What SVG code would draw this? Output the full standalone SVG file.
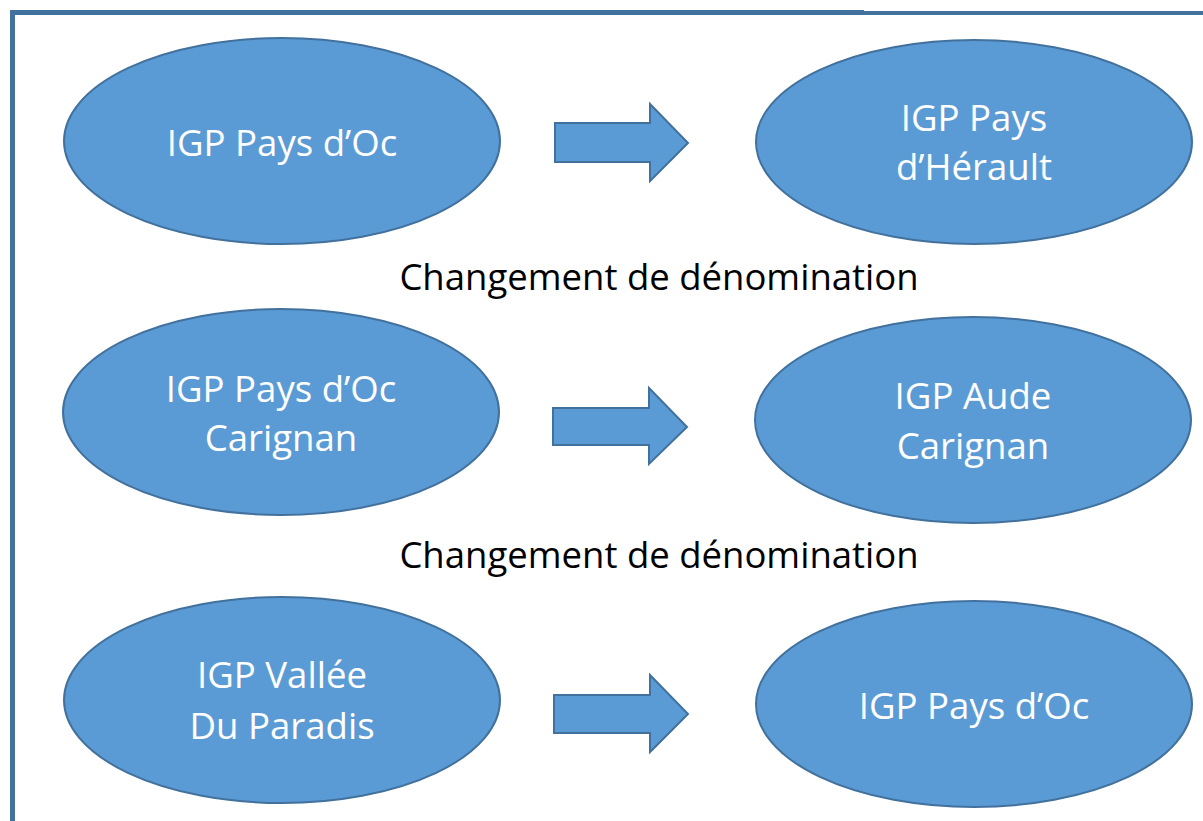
<svg xmlns="http://www.w3.org/2000/svg" width="1203" height="821" viewBox="0 0 1203 821">
<style>
.node ellipse{fill:#5B9BD5;stroke:#41719C;stroke-width:2}
.node text{fill:#ffffff;font-family:"Open Sans","Noto Sans","Liberation Sans",sans-serif;font-size:36.6px;text-anchor:middle}
.arrow{fill:#5B9BD5;stroke:#41719C;stroke-width:2}
.lbl{fill:#000000;font-family:"Open Sans","Noto Sans","Liberation Sans",sans-serif;font-size:36.5px;text-anchor:middle}
.frame{fill:none;stroke:#41719C}
</style>
<rect width="1203" height="821" fill="#ffffff"/>
<g id="frame">
<path class="frame" d="M12.5 821 V12.5 H864" stroke-width="5"/>
<path class="frame" d="M864 13 H1203" stroke-width="4"/>
</g>
<g id="n1" class="node"><ellipse cx="282" cy="141" rx="218" ry="103"/><text x="282" y="156">IGP Pays d’Oc</text></g>
<g id="n2" class="node"><ellipse cx="974" cy="142" rx="218" ry="102"/><text x="974" y="131">IGP Pays</text><text x="974" y="180">d’Hérault</text></g>
<g id="n3" class="node"><ellipse cx="281" cy="412" rx="218" ry="103"/><text x="281" y="402">IGP Pays d’Oc</text><text x="281" y="451">Carignan</text></g>
<g id="n4" class="node"><ellipse cx="973" cy="420" rx="218" ry="103"/><text x="973" y="409">IGP Aude</text><text x="973" y="459">Carignan</text></g>
<g id="n5" class="node"><ellipse cx="282" cy="700" rx="218" ry="103"/><text x="282" y="688">IGP Vallée</text><text x="282" y="739">Du Paradis</text></g>
<g id="n6" class="node"><ellipse cx="974" cy="704" rx="218" ry="103"/><text x="974" y="719">IGP Pays d’Oc</text></g>
<g id="connectors">
<path class="arrow" d="M555 123 H650 V104 L688 143 L650 181 V162 H555 Z"/>
<path class="arrow" d="M553 408 H649 V388 L687 427 L649 464 V445 H553 Z"/>
<path class="arrow" d="M554 695 H650 V675 L688 714 L650 752 V733 H554 Z"/>
</g>
<g id="labels">
<text class="lbl" x="659" y="290">Changement de dénomination</text>
<text class="lbl" x="659" y="568">Changement de dénomination</text>
</g>
</svg>
